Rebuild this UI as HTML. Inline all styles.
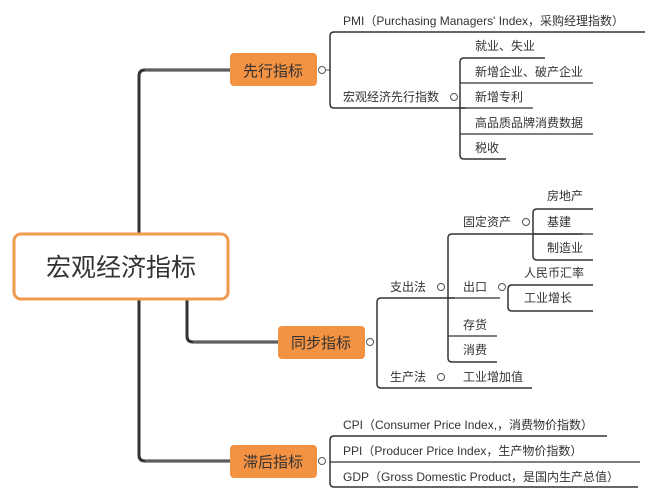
<!DOCTYPE html>
<html><head><meta charset="utf-8">
<style>
html,body{margin:0;padding:0;background:#fff;}
svg{display:block;}
text{font-family:"Liberation Sans","Noto Sans CJK SC",sans-serif;fill:#333;}
.s{font-size:12px;}
.b{font-size:15px;fill:#333;}
</style></head><body>
<svg width="660" height="499" viewBox="0 0 660 499" xmlns="http://www.w3.org/2000/svg">
<rect width="660" height="499" fill="#fff"/>
<!-- root trunk -->
<path d="M230 70 H145 Q139 70 139 76 V455 Q139 461 145 461 H230" fill="none" stroke="#333" stroke-width="3"/>
<path d="M230 70 H145 M145 461 H230" stroke="#888" stroke-width="1"/>
<path d="M187 299 V336 Q187 342 193 342 H278" fill="none" stroke="#333" stroke-width="3"/>
<path d="M193 342 H278" stroke="#888" stroke-width="1"/>
<!-- root box -->
<rect x="14" y="234" width="214" height="65" rx="7" fill="#fff" stroke="#ef9a4e" stroke-width="3"/>
<text x="121" y="276" text-anchor="middle" style="font-size:25px;fill:#333">宏观经济指标</text>

<!-- 先行指标 -->
<rect x="230" y="53" width="87" height="33" rx="4" fill="#f39242"/>
<text x="273" y="76" text-anchor="middle" class="b">先行指标</text>
<circle cx="322" cy="70" r="3.5" fill="#fff" stroke="#555" stroke-width="1"/>
<path d="M326 70 H330" stroke="#555"/>
<path d="M645 32 H334 Q330 32 330 36 V104 Q330 108 334 108 H466" fill="none" stroke="#333" stroke-width="1.5"/>
<text x="343" y="25" class="s">PMI（Purchasing Managers' Index，采购经理指数）</text>
<text x="343" y="101" class="s">宏观经济先行指数</text>
<circle cx="454" cy="97" r="3.5" fill="#fff" stroke="#555"/>
<path d="M545 58 H464 Q460 58 460 62 V155 Q460 159 464 159 H506" fill="none" stroke="#333" stroke-width="1.5"/>
<path d="M460 83 H593 M460 108 H533 M460 134 H593" stroke="#333" stroke-width="1.2"/>
<text x="475" y="50" class="s">就业、失业</text>
<text x="475" y="76" class="s">新增企业、破产企业</text>
<text x="475" y="101" class="s">新增专利</text>
<text x="475" y="127" class="s">高品质品牌消费数据</text>
<text x="475" y="152" class="s">税收</text>

<!-- 同步指标 -->
<rect x="278" y="326" width="87" height="33" rx="4" fill="#f39242"/>
<text x="321" y="348" text-anchor="middle" class="b">同步指标</text>
<circle cx="370" cy="342" r="3.5" fill="#fff" stroke="#555"/>
<path d="M455 298 H381 Q377 298 377 302 V384 Q377 388 381 388 H532" fill="none" stroke="#333" stroke-width="1.5"/>
<text x="390" y="291" class="s">支出法</text>
<circle cx="441" cy="287" r="3.5" fill="#fff" stroke="#555"/>
<text x="390" y="381" class="s">生产法</text>
<circle cx="441" cy="377" r="3.5" fill="#fff" stroke="#555"/>
<text x="463" y="381" class="s">工业增加值</text>
<path d="M583 234 H452 Q448 234 448 238 V358 Q448 362 452 362 H497" fill="none" stroke="#333" stroke-width="1.5"/>
<path d="M448 298 H500 M448 336 H497" stroke="#333" stroke-width="1.2"/>
<text x="463" y="226" class="s">固定资产</text>
<circle cx="526" cy="222" r="3.5" fill="#fff" stroke="#555"/>
<text x="463" y="291" class="s">出口</text>
<circle cx="502" cy="287" r="3.5" fill="#fff" stroke="#555"/>
<text x="463" y="329" class="s">存货</text>
<text x="463" y="354" class="s">消费</text>
<path d="M593 209 H537 Q533 209 533 213 V256 Q533 260 537 260 H593" fill="none" stroke="#333" stroke-width="1.5"/>
<path d="M533 234 H593" stroke="#333" stroke-width="1.2"/>
<text x="547" y="200" class="s">房地产</text>
<text x="547" y="226" class="s">基建</text>
<text x="547" y="252" class="s">制造业</text>
<path d="M593 285 H512 Q508 285 508 289 V307 Q508 311 512 311 H593" fill="none" stroke="#333" stroke-width="1.5"/>
<text x="524" y="277" class="s">人民币汇率</text>
<text x="524" y="302" class="s">工业增长</text>

<!-- 滞后指标 -->
<rect x="230" y="445" width="87" height="33" rx="4" fill="#f39242"/>
<text x="273" y="467" text-anchor="middle" class="b">滞后指标</text>
<circle cx="322" cy="461" r="3.5" fill="#fff" stroke="#555"/>
<path d="M607 436 H334 Q330 436 330 440 V483 Q330 487 334 487 H638" fill="none" stroke="#333" stroke-width="1.5"/>
<path d="M330 462 H640" stroke="#333" stroke-width="1.2"/>
<text x="343" y="429" class="s">CPI（Consumer Price Index,，消费物价指数）</text>
<text x="343" y="455" class="s">PPI（Producer Price Index，生产物价指数）</text>
<text x="343" y="481" class="s">GDP（Gross Domestic Product，是国内生产总值）</text>
</svg>
</body></html>
